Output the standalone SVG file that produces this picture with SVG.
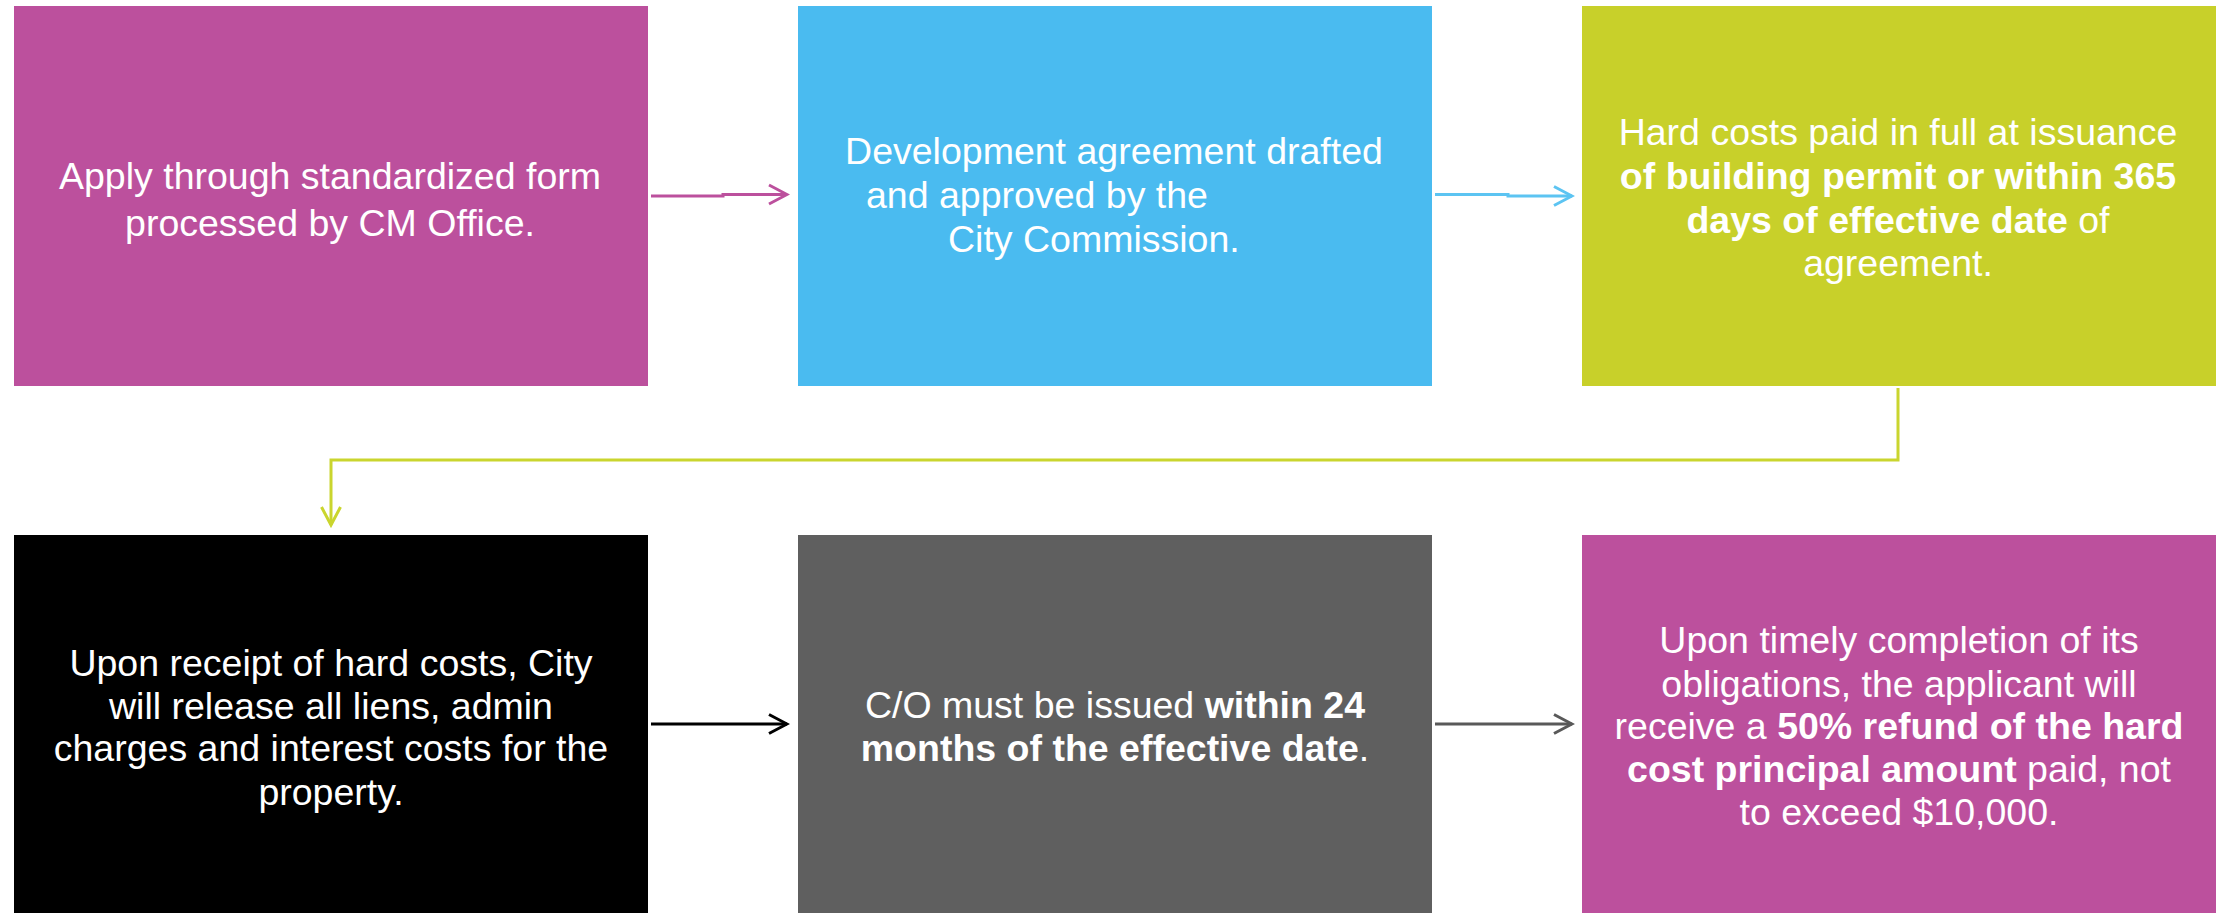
<svg xmlns="http://www.w3.org/2000/svg" width="2221" height="913" viewBox="0 0 2221 913">
<style>
text{font-family:"Liberation Sans",Arial,sans-serif;font-size:37.5px;fill:#fff;text-anchor:middle}
.b{font-weight:bold}
.s{text-anchor:start}
.c{fill:none;stroke-width:3}
</style>
<defs>
<marker id="am" viewBox="0 0 24 24" refX="21" refY="12" markerWidth="24" markerHeight="24" markerUnits="userSpaceOnUse" orient="auto"><path d="M3,2.5 L21,12 L3,21.5" fill="none" stroke="#BC509D" stroke-width="3"/></marker>
<marker id="ab" viewBox="0 0 24 24" refX="21" refY="12" markerWidth="24" markerHeight="24" markerUnits="userSpaceOnUse" orient="auto"><path d="M3,2.5 L21,12 L3,21.5" fill="none" stroke="#5CC4F2" stroke-width="3"/></marker>
<marker id="al" viewBox="0 0 24 24" refX="21" refY="12" markerWidth="24" markerHeight="24" markerUnits="userSpaceOnUse" orient="auto"><path d="M3,2.5 L21,12 L3,21.5" fill="none" stroke="#CAD52E" stroke-width="3"/></marker>
<marker id="ak" viewBox="0 0 24 24" refX="21" refY="12" markerWidth="24" markerHeight="24" markerUnits="userSpaceOnUse" orient="auto"><path d="M3,2.5 L21,12 L3,21.5" fill="none" stroke="#000" stroke-width="3"/></marker>
<marker id="ag" viewBox="0 0 24 24" refX="21" refY="12" markerWidth="24" markerHeight="24" markerUnits="userSpaceOnUse" orient="auto"><path d="M3,2.5 L21,12 L3,21.5" fill="none" stroke="#595959" stroke-width="3"/></marker>
</defs>
<rect width="2221" height="913" fill="#fff"/>
<g id="connectors">
<path class="c" d="M651,196 H723 V194.5 H787" stroke="#BC509D" marker-end="url(#am)"/>
<path class="c" d="M1435,194.5 H1508 V196 H1572" stroke="#5CC4F2" marker-end="url(#ab)"/>
<path class="c" d="M1898,388 V460 H331 V525" stroke="#CAD52E" marker-end="url(#al)"/>
<path class="c" d="M651,724 H787" stroke="#000" marker-end="url(#ak)"/>
<path class="c" d="M1435,724 H1572" stroke="#595959" marker-end="url(#ag)"/>
</g>
<g id="node1">
<rect x="14" y="6" width="634" height="380" fill="#BC509D"/>
<text x="330" y="189">Apply through standardized form</text>
<text x="330" y="236">processed by CM Office.</text>
</g>
<g id="node2">
<rect x="798" y="6" width="634" height="380" fill="#4ABBF0"/>
<text x="1114" y="164">Development agreement drafted</text>
<text x="866" y="208" class="s">and approved by the</text>
<text x="948" y="252" class="s">City Commission.</text>
</g>
<g id="node3">
<rect x="1582" y="6" width="634" height="380" fill="#C8D02A"/>
<text x="1898" y="145">Hard costs paid in full at issuance</text>
<text x="1898" y="189" class="b">of building permit or within 365</text>
<text x="1898" y="233"><tspan class="b">days of effective date</tspan> of</text>
<text x="1898" y="276">agreement.</text>
</g>
<g id="node4">
<rect x="14" y="535" width="634" height="378" fill="#000"/>
<text x="331" y="676">Upon receipt of hard costs, City</text>
<text x="331" y="719">will release all liens, admin</text>
<text x="331" y="761">charges and interest costs for the</text>
<text x="331" y="805">property.</text>
</g>
<g id="node5">
<rect x="798" y="535" width="634" height="378" fill="#5F5F5F"/>
<text x="1115" y="718">C/O must be issued <tspan class="b">within 24</tspan></text>
<text x="1115" y="761"><tspan class="b">months of the effective date</tspan>.</text>
</g>
<g id="node6">
<rect x="1582" y="535" width="634" height="378" fill="#BC509D"/>
<text x="1899" y="653">Upon timely completion of its</text>
<text x="1899" y="697">obligations, the applicant will</text>
<text x="1899" y="739">receive a <tspan class="b">50% refund of the hard</tspan></text>
<text x="1899" y="782"><tspan class="b">cost principal amount</tspan> paid, not</text>
<text x="1899" y="825">to exceed $10,000.</text>
</g>
</svg>
